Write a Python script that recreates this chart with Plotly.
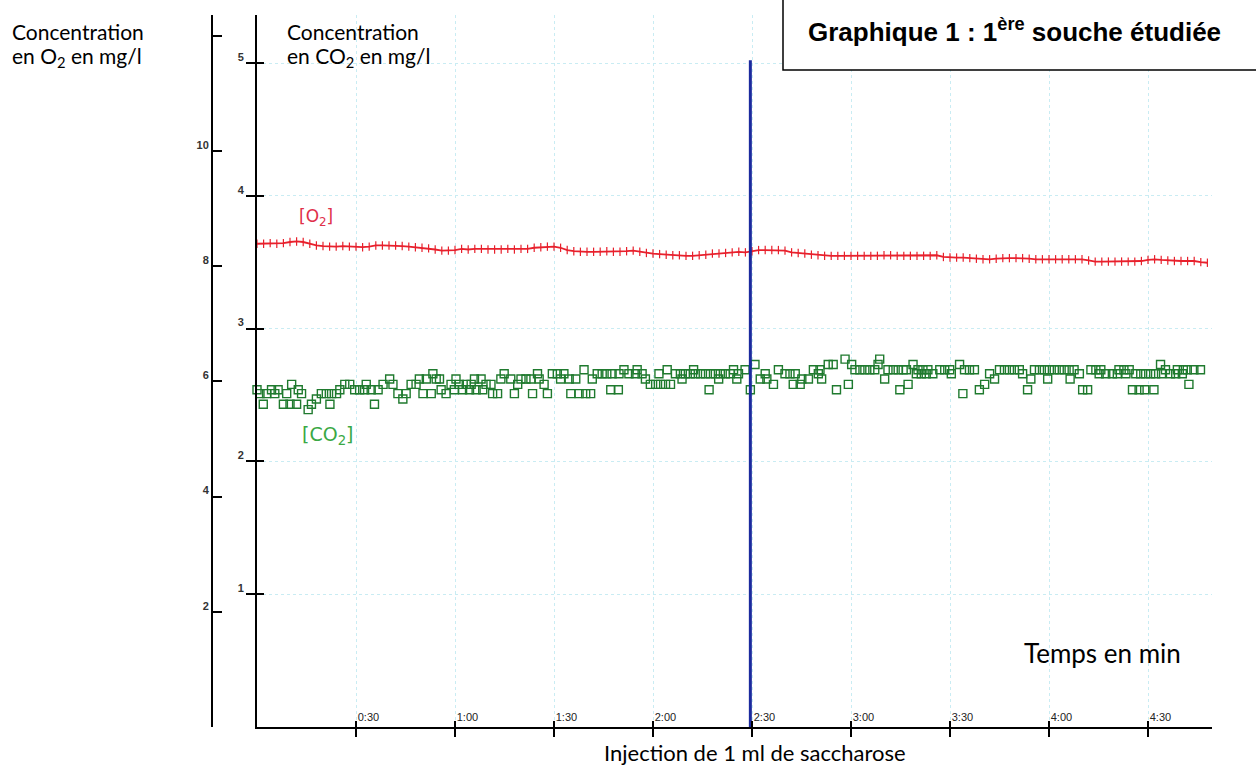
import plotly.graph_objects as go

# ---------------- DATA ----------------
o2_time = [0, 2, 4, 6, 8, 10, 12, 14, 16, 18, 20, 22, 24, 26, 28, 30, 32, 34, 36, 38,
           40, 42, 44, 46, 48, 50, 52, 54, 56, 58, 60, 62, 64, 66, 68, 70, 72, 74, 76, 78,
           80, 82, 84, 86, 88, 90, 92, 94, 96, 98, 100, 102, 104, 106, 108, 110, 112, 114, 116, 118,
           120, 122, 124, 126, 128, 130, 132, 134, 136, 138, 140, 142, 144, 146, 148, 150, 152, 154, 156, 158,
           160, 162, 164, 166, 168, 170, 172, 174, 176, 178, 180, 182, 184, 186, 188, 190, 192, 194, 196, 198,
           200, 202, 204, 206, 208, 210, 212, 214, 216, 218, 220, 222, 224, 226, 228, 230, 232, 234, 236, 238,
           240, 242, 244, 246, 248, 250, 252, 254, 256, 258, 260, 262, 264, 266, 268, 270, 272, 274, 276, 278,
           280, 282, 284, 286, 288]
o2_value = [8.39, 8.39, 8.40, 8.39, 8.40, 8.42, 8.43, 8.42, 8.39, 8.36, 8.35, 8.34, 8.34, 8.35, 8.34, 8.34, 8.33, 8.34, 8.36, 8.36,
            8.36, 8.36, 8.35, 8.34, 8.33, 8.32, 8.31, 8.29, 8.27, 8.27, 8.28, 8.30, 8.29, 8.30, 8.30, 8.29, 8.29, 8.29, 8.30, 8.29,
            8.30, 8.30, 8.32, 8.33, 8.34, 8.34, 8.32, 8.28, 8.26, 8.25, 8.25, 8.25, 8.25, 8.26, 8.25, 8.25, 8.26, 8.27, 8.25, 8.23,
            8.22, 8.21, 8.20, 8.19, 8.19, 8.18, 8.18, 8.19, 8.20, 8.22, 8.22, 8.23, 8.24, 8.25, 8.24, 8.26, 8.28, 8.28, 8.28, 8.28,
            8.27, 8.24, 8.23, 8.22, 8.20, 8.19, 8.18, 8.18, 8.18, 8.18, 8.18, 8.18, 8.18, 8.18, 8.18, 8.19, 8.19, 8.18, 8.18, 8.18,
            8.18, 8.18, 8.18, 8.19, 8.16, 8.15, 8.15, 8.15, 8.14, 8.13, 8.12, 8.12, 8.13, 8.14, 8.14, 8.14, 8.14, 8.13, 8.12, 8.12,
            8.12, 8.12, 8.12, 8.12, 8.12, 8.12, 8.10, 8.08, 8.08, 8.08, 8.08, 8.08, 8.08, 8.08, 8.09, 8.11, 8.12, 8.11, 8.10, 8.09,
            8.09, 8.09, 8.09, 8.07, 8.06]

co2_time = [0.0, 0.9, 1.9, 2.9, 4.4, 5.4, 6.4, 8.0, 9.0, 10.0, 10.5, 12.0, 12.5, 13.5, 15.5, 16.5, 18.0, 19.5, 21.0, 22.1,
            22.6, 24.1, 25.1, 26.6, 28.1, 29.6, 31.1, 32.6, 33.1, 34.6, 35.6, 36.7, 38.2, 40.2, 41.2, 42.7, 44.2, 45.2, 46.7, 48.2,
            49.2, 50.3, 51.3, 52.8, 53.3, 54.3, 55.3, 55.8, 57.3, 58.8, 59.8, 60.3, 61.3, 62.3, 63.4, 64.4, 64.9, 65.9, 66.4, 67.9,
            68.4, 69.4, 70.9, 71.4, 72.9, 73.9, 74.9, 76.9, 78.0, 79.0, 80.0, 81.5, 83.0, 83.5, 85.0, 85.5, 87.0, 88.0, 89.5, 91.0,
            92.0, 93.0, 94.6, 95.1, 96.6, 97.6, 99.1, 99.6, 101.1, 101.6, 103.1, 104.6, 106.0, 107.2, 107.6, 109.5, 109.7, 111.2, 112.7, 114.7,
            115.2, 116.7, 117.7, 119.2, 120.8, 121.8, 122.3, 123.8, 124.3, 125.3, 126.8, 128.3, 128.8, 129.8, 131.3, 132.3, 132.8, 134.4, 135.9, 137.0,
            137.4, 138.9, 139.9, 140.4, 141.9, 143.4, 144.4, 145.4, 145.9, 147.9, 149.5, 150.9, 152.5, 154.0, 154.5, 156.5, 158.0, 160.0, 161.5, 162.5,
            163.1, 164.6, 165.1, 167.1, 168.6, 170.1, 171.1, 170.6, 173.1, 174.6, 175.6, 178.2, 179.2, 180.2, 181.2, 182.7, 184.2, 185.7, 187.2, 188.2,
            188.7, 190.2, 191.2, 192.8, 194.3, 194.8, 195.8, 196.8, 197.3, 198.8, 199.8, 200.3, 201.3, 201.8, 202.8, 203.3, 204.8, 206.9, 208.4, 209.9,
            210.4, 212.9, 213.9, 214.4, 215.9, 217.4, 218.9, 220.5, 222.0, 223.5, 225.0, 226.5, 228.0, 229.5, 231.0, 232.0, 233.5, 234.5, 235.6, 237.1,
            238.6, 239.6, 240.1, 241.6, 243.1, 244.6, 246.1, 246.4, 247.6, 249.2, 250.2, 251.7, 252.7, 254.2, 255.2, 255.7, 257.2, 259.2, 260.7, 261.2,
            262.7, 263.3, 264.3, 265.3, 266.3, 267.3, 267.8, 269.0, 269.3, 270.8, 271.8, 272.3, 273.8, 274.1, 275.3, 276.8, 278.4, 278.9, 280.4, 280.7,
            281.9, 282.4, 283.9, 285.9]
co2_value = [2.54, 2.51, 2.43, 2.51, 2.54, 2.51, 2.54, 2.43, 2.51, 2.43, 2.58, 2.43, 2.54, 2.51, 2.39, 2.43, 2.47, 2.51, 2.51, 2.43,
             2.51, 2.51, 2.54, 2.58, 2.58, 2.54, 2.54, 2.54, 2.58, 2.54, 2.43, 2.54, 2.58, 2.62, 2.58, 2.51, 2.47, 2.51, 2.58, 2.58,
             2.62, 2.51, 2.62, 2.51, 2.66, 2.62, 2.62, 2.54, 2.51, 2.58, 2.54, 2.62, 2.58, 2.54, 2.58, 2.54, 2.58, 2.62, 2.54, 2.62,
             2.54, 2.58, 2.58, 2.51, 2.51, 2.62, 2.66, 2.62, 2.51, 2.58, 2.62, 2.62, 2.62, 2.51, 2.66, 2.62, 2.58, 2.51, 2.66, 2.66,
             2.62, 2.66, 2.62, 2.51, 2.62, 2.51, 2.69, 2.51, 2.51, 2.62, 2.66, 2.66, 2.66, 2.54, 2.66, 2.54, 2.66, 2.69, 2.66, 2.66,
             2.69, 2.66, 2.62, 2.58, 2.58, 2.66, 2.58, 2.58, 2.69, 2.58, 2.66, 2.66, 2.62, 2.66, 2.66, 2.69, 2.66, 2.66, 2.66, 2.54,
             2.66, 2.66, 2.62, 2.66, 2.66, 2.66, 2.69, 2.62, 2.66, 2.69, 2.54, 2.73, 2.62, 2.66, 2.62, 2.58, 2.69, 2.66, 2.66, 2.58,
             2.66, 2.58, 2.62, 2.62, 2.69, 2.66, 2.62, 2.69, 2.73, 2.73, 2.54, 2.77, 2.58, 2.73, 2.69, 2.69, 2.69, 2.69, 2.69, 2.73,
             2.77, 2.62, 2.69, 2.69, 2.69, 2.54, 2.69, 2.69, 2.58, 2.73, 2.66, 2.69, 2.66, 2.69, 2.66, 2.69, 2.66, 2.69, 2.69, 2.69,
             2.66, 2.73, 2.51, 2.69, 2.69, 2.69, 2.54, 2.58, 2.66, 2.62, 2.69, 2.69, 2.69, 2.69, 2.69, 2.66, 2.54, 2.62, 2.69, 2.69,
             2.69, 2.62, 2.69, 2.69, 2.69, 2.69, 2.69, 2.62, 2.69, 2.66, 2.54, 2.54, 2.69, 2.69, 2.66, 2.69, 2.66, 2.66, 2.66, 2.69,
             2.69, 2.66, 2.69, 2.54, 2.66, 2.54, 2.66, 2.54, 2.66, 2.66, 2.54, 2.66, 2.73, 2.66, 2.69, 2.66, 2.66, 2.69, 2.66, 2.69,
             2.69, 2.58, 2.69, 2.69]

x_tick_seconds = [30, 60, 90, 120, 150, 180, 210, 240, 270]
x_tick_labels = ["0:30", "1:00", "1:30", "2:00", "2:30", "3:00", "3:30", "4:00", "4:30"]
co2_ticks = [1, 2, 3, 4, 5]
co2_tick_labels = ["1", "2", "3", "4", "5"]
o2_ticks = [2, 4, 6, 8, 10, 12]
o2_tick_labels = ["2", "4", "6", "8", "10", ""]
injection_time = 149.5
injection_span_co2 = [-0.06, 5.02]

title_text = "Graphique 1 : 1<sup>ère</sup> souche étudiée"
o2_title = ["Concentration", "en O<sub>2</sub> en mg/l"]
co2_title = ["Concentration", "en CO<sub>2</sub> en mg/l"]
x_title = "Temps en min"
injection_text = "Injection de 1 ml de saccharose"
o2_hand = "[O<sub>2</sub>]"
co2_hand = "[CO<sub>2</sub>]"

# ---------------- LAYOUT HELPERS ----------------
W, H = 1256, 767


def px(x):
    return x / W


def py(y):
    return 1 - y / H


RED = "#e8202c"
GREEN = "#1f7a2e"
GRID = "#c9ecf3"
TEXT_FONT = "Lato, 'Open Sans', sans-serif"

x_dom = [px(257), px(1212)]
y_dom = [py(727), py(15)]
x_range = [0, (1212 - 257) / 3.30]
co2_range = [0, (727 - 15) / 132.8]
o2_range = [0, (727 - 15) / 57.6]

fig = go.Figure()

fig.add_trace(go.Scatter(
    x=co2_time, y=co2_value, mode="markers", xaxis="x", yaxis="y",
    marker=dict(symbol="square-open", size=8, color=GREEN, line=dict(width=1.4, color=GREEN)),
    cliponaxis=False, hoverinfo="x+y", showlegend=False,
))

fig.add_trace(go.Scatter(
    x=o2_time, y=o2_value, mode="lines+markers", xaxis="x", yaxis="y2",
    line=dict(color=RED, width=1.8),
    marker=dict(symbol="line-ns-open", size=6, color=RED, line=dict(width=1.2, color=RED)),
    cliponaxis=False, showlegend=False,
))

fig.add_trace(go.Scatter(
    x=[injection_time, injection_time], y=injection_span_co2, mode="lines",
    xaxis="x2", yaxis="y3",
    line=dict(color="#1b2a9e", width=3), cliponaxis=False, showlegend=False,
))

tick_font = dict(family="Liberation Sans, Arial", size=11, color="#333333", weight="bold")

fig.update_layout(
    width=W, height=H, autosize=False,
    margin=dict(l=0, r=0, t=0, b=0),
    paper_bgcolor="white", plot_bgcolor="white",
    showlegend=False,
    xaxis=dict(
        domain=x_dom, range=x_range, anchor="y",
        showline=True, linecolor="black", linewidth=2,
        ticks="outside", ticklen=8, tickwidth=1.5, tickcolor="black",
        tickvals=x_tick_seconds, ticktext=x_tick_labels,
        ticklabelposition="inside right",
        tickfont=dict(family="Liberation Sans, Arial", size=11, color="#222222"),
        showgrid=True, gridcolor=GRID, griddash="dot", gridwidth=1,
        zeroline=False,
    ),
    xaxis2=dict(
        overlaying="x", anchor="y", range=x_range,
        ticks="inside", ticklen=6, tickwidth=1.5, tickcolor="black",
        tickvals=x_tick_seconds, showticklabels=False,
        showgrid=False, showline=False, zeroline=False,
    ),
    yaxis=dict(
        domain=y_dom, range=co2_range, anchor="x",
        showline=True, linecolor="black", linewidth=2,
        ticks="outside", ticklen=9, tickwidth=1.5, tickcolor="black",
        tickvals=co2_ticks, ticktext=co2_tick_labels,
        ticklabelshift=-6, tickfont=tick_font,
        showgrid=True, gridcolor=GRID, griddash="dot", gridwidth=1,
        zeroline=False,
    ),
    yaxis2=dict(
        overlaying="y", anchor="free", position=px(212), side="left",
        range=o2_range,
        showline=True, linecolor="black", linewidth=2,
        ticks="inside", ticklen=9, tickwidth=1.5, tickcolor="black",
        tickvals=o2_ticks, ticktext=o2_tick_labels,
        ticklabelshift=-6, tickfont=tick_font,
        showgrid=False, zeroline=False,
    ),
    yaxis3=dict(
        overlaying="y", anchor="x", range=co2_range,
        ticks="inside", ticklen=7, tickwidth=1.5, tickcolor="black",
        tickvals=co2_ticks, showticklabels=False,
        showgrid=False, showline=False, zeroline=False,
    ),
)

# title box
fig.add_shape(type="rect", xref="paper", yref="paper",
              x0=px(783), x1=px(1262), y0=py(70), y1=py(-5),
              line=dict(color="black", width=1.5), fillcolor="white", layer="above")

annots = [
    dict(text="<b>" + title_text + "</b>", x=px(806), y=py(30), xanchor="left", yanchor="middle",
         font=dict(family="Liberation Sans, Arial", size=26, color="black")),
    dict(text=o2_title[0], x=px(10), y=py(32), xanchor="left", yanchor="middle",
         font=dict(family=TEXT_FONT, size=21, color="black")),
    dict(text=o2_title[1], x=px(10), y=py(57), xanchor="left", yanchor="middle",
         font=dict(family=TEXT_FONT, size=21, color="black")),
    dict(text=co2_title[0], x=px(285), y=py(32), xanchor="left", yanchor="middle",
         font=dict(family=TEXT_FONT, size=21, color="black")),
    dict(text=co2_title[1], x=px(285), y=py(57), xanchor="left", yanchor="middle",
         font=dict(family=TEXT_FONT, size=21, color="black")),
    dict(text=x_title, x=px(1022), y=py(653), xanchor="left", yanchor="middle",
         font=dict(family=TEXT_FONT, size=26, color="black")),
    dict(text=injection_text, x=px(755), y=py(752), xanchor="center", yanchor="middle",
         font=dict(family=TEXT_FONT, size=22, color="black")),
    dict(text=o2_hand, x=px(297), y=py(217), xanchor="left", yanchor="middle",
         font=dict(family="DejaVu Sans", size=17, color="#e0304a")),
    dict(text=co2_hand, x=px(300), y=py(435), xanchor="left", yanchor="middle",
         font=dict(family="DejaVu Sans", size=19, color="#3aa845")),
]
for a in annots:
    a.update(xref="paper", yref="paper", showarrow=False)
    fig.add_annotation(**a)

fig.write_html("out.html", config={"displayModeBar": False},
               post_script="document.body.style.margin='0';document.body.style.overflow='hidden';")
